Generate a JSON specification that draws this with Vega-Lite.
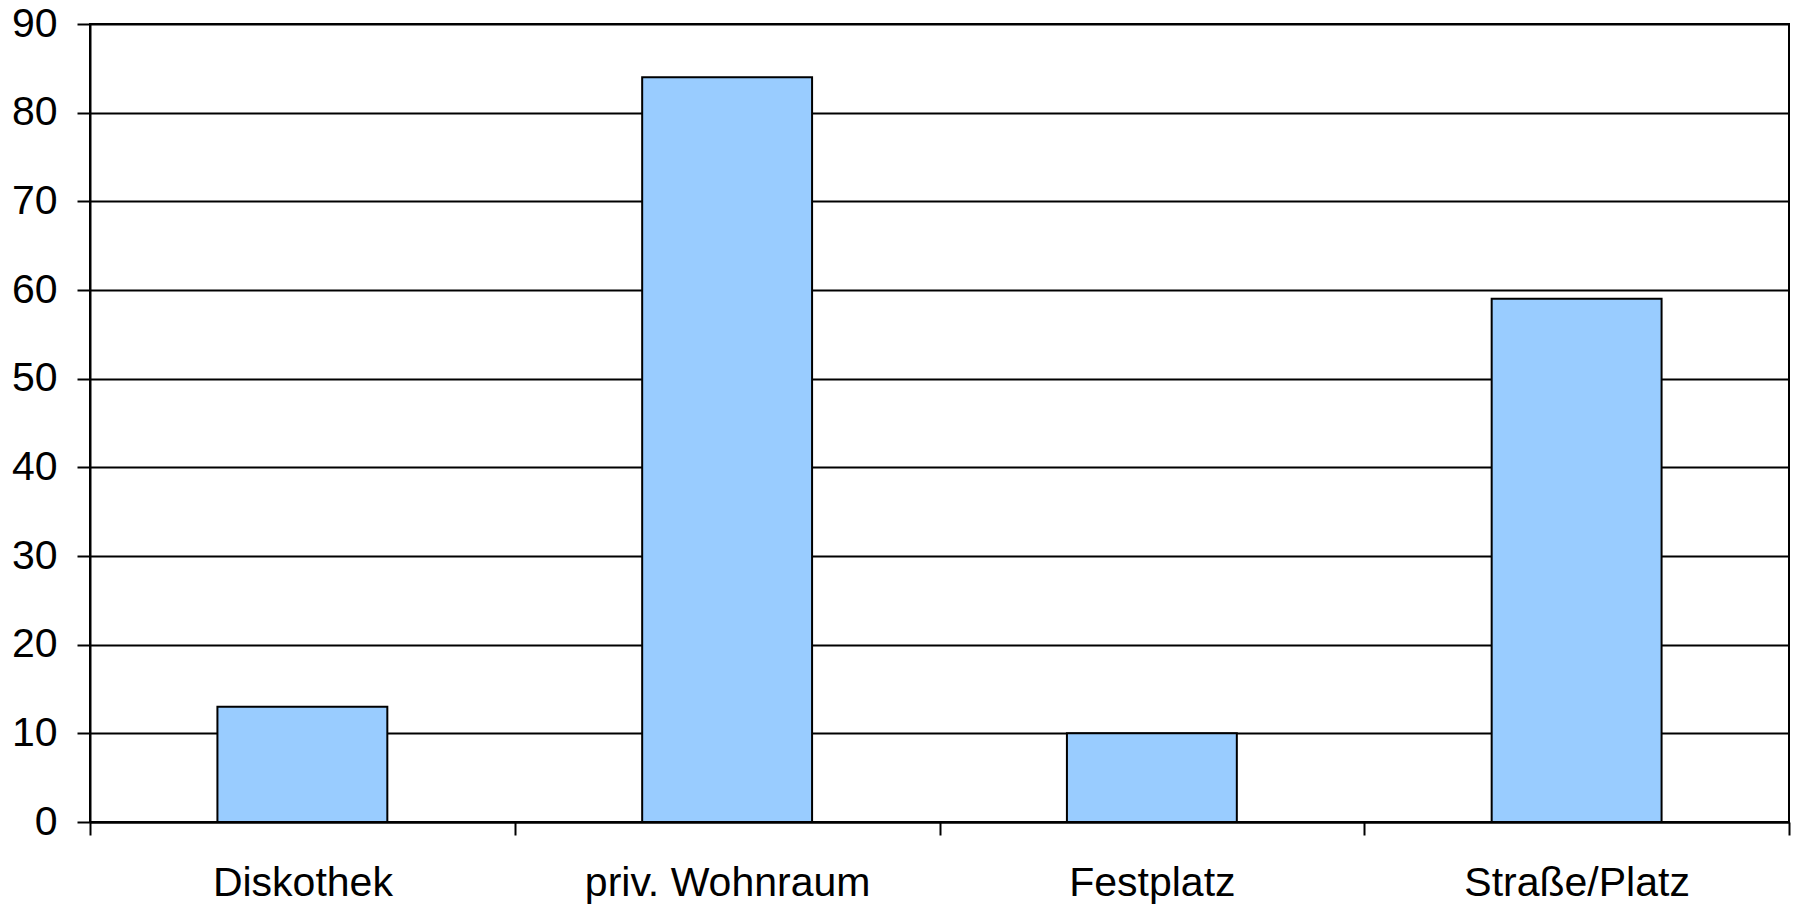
{
  "$schema": "https://vega.github.io/schema/vega-lite/v6.json",
  "width": 1699,
  "height": 798,
  "autosize": {"type": "none"},
  "padding": {"left": 90, "top": 24, "right": 10, "bottom": 83},
  "background": "white",
  "config": {
    "view": {"stroke": "black", "strokeWidth": 2},
    "font": "Liberation Sans"
  },
  "data": {
    "values": [
      {"ort": "Diskothek", "wert": 13},
      {"ort": "priv. Wohnraum", "wert": 84},
      {"ort": "Festplatz", "wert": 10},
      {"ort": "Straße/Platz", "wert": 59}
    ]
  },
  "mark": {"type": "bar", "fill": "#99CCFF", "stroke": "black", "strokeWidth": 2, "width": {"band": 0.4}},
  "encoding": {
    "x": {
      "field": "ort",
      "type": "nominal",
      "sort": null,
      "scale": {"paddingInner": 0, "paddingOuter": 0},
      "axis": {
        "title": null,
        "labelAngle": 0,
        "labelFontSize": 41,
        "labelColor": "black",
        "labelFont": "Liberation Sans",
        "labelBaseline": "alphabetic",
        "labelPadding": 60,
        "labelOverlap": false,
        "labelLimit": 0,
        "tickBand": "extent",
        "tickSize": 13,
        "tickColor": "black",
        "tickWidth": 2,
        "domainColor": "black",
        "domainWidth": 2,
        "grid": false
      }
    },
    "y": {
      "field": "wert",
      "type": "quantitative",
      "scale": {"domain": [0, 90], "nice": false},
      "axis": {
        "title": null,
        "values": [0, 10, 20, 30, 40, 50, 60, 70, 80, 90],
        "grid": true,
        "gridColor": "black",
        "gridWidth": 2,
        "gridOpacity": 1,
        "tickSize": 13,
        "tickColor": "black",
        "tickWidth": 2,
        "domainColor": "black",
        "domainWidth": 2,
        "labelFontSize": 41,
        "labelColor": "black",
        "labelFont": "Liberation Sans",
        "labelPadding": 20,
        "labelFlush": false,
        "labelOverlap": false
      }
    }
  }
}
